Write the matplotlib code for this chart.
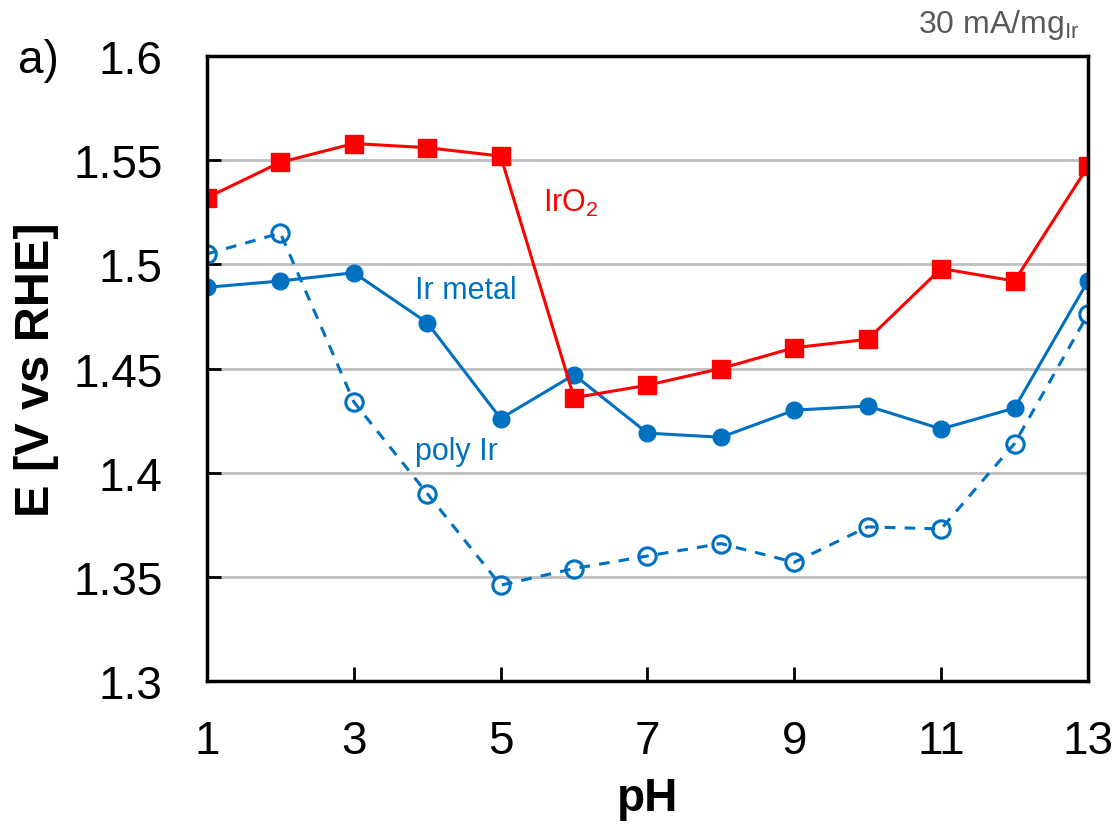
import matplotlib
matplotlib.use("Agg")
from matplotlib import pyplot as plt

plt.rcParams['font.family'] = ['Liberation Sans', 'DejaVu Sans']

# data
ph = [1, 2, 3, 4, 5, 6, 7, 8, 9, 10, 11, 12, 13]
iro2 = [1.532, 1.549, 1.558, 1.556, 1.552, 1.436, 1.442, 1.450, 1.460, 1.464, 1.498, 1.492, 1.547]
ir_metal = [1.489, 1.492, 1.496, 1.472, 1.426, 1.447, 1.419, 1.417, 1.430, 1.432, 1.421, 1.431, 1.492]
poly_ir = [1.505, 1.515, 1.434, 1.390, 1.346, 1.354, 1.360, 1.366, 1.357, 1.374, 1.373, 1.414, 1.476]

x_ticks = [1, 3, 5, 7, 9, 11, 13]
y_ticks = [1.3, 1.35, 1.4, 1.45, 1.5, 1.55, 1.6]
y_ticklabels = ['1.3', '1.35', '1.4', '1.45', '1.5', '1.55', '1.6']

red = '#FF0000'
blue = '#0070C0'

fig = plt.figure(figsize=(11.2, 8.29), dpi=100)
ax = fig.add_axes([0.1848, 0.1773, 0.7866, 0.7539])

# open circles are see-through in the original, the dashes show inside them
ax.plot(ph, poly_ir, color=blue, lw=2.2, ls=(0, (3.5, 3)), marker='o', ms=12.5,
        mfc='none', mec=blue, mew=2.2, zorder=3)
ax.plot(ph, ir_metal, color=blue, lw=2.2, marker='o', ms=12, zorder=4)
ax.plot(ph, iro2, color=red, lw=2.2, marker='s', ms=12.5, zorder=5)

ax.set_xlim(1, 13)
ax.set_ylim(1.3, 1.6)
ax.set_xticks(x_ticks)
ax.set_yticks(y_ticks)
ax.set_yticklabels(y_ticklabels)
ax.tick_params(direction='in', length=10, width=2, labelsize=33, color='black')
ax.tick_params(axis='y', pad=32)
ax.tick_params(axis='x', pad=27)
ax.yaxis.grid(True, color='#BFBFBF', lw=2)
ax.set_axisbelow(True)
for s in ax.spines.values():
    s.set_linewidth(2.5)
    s.set_zorder(6)

ax.set_xlabel('pH', fontsize=33, fontweight='bold', labelpad=10)
ax.set_ylabel('E [V vs RHE]', fontsize=35, fontweight='bold', labelpad=10)

ax.text(5.58, 1.5255, r'IrO$_{\mathregular{2}}$', color=red, fontsize=22, ha='left', va='baseline')
ax.text(3.83, 1.4837, 'Ir metal', color=blue, fontsize=22, ha='left', va='baseline')
ax.text(3.83, 1.4067, 'poly Ir', color=blue, fontsize=22, ha='left', va='baseline')

fig.text(0.016, 0.912, 'a)', fontsize=33, ha='left', va='baseline')
fig.text(0.964, 0.960, r'30 mA/mg$_{\mathregular{Ir}}$', fontsize=23, color='#595959',
         ha='right', va='baseline')

fig.savefig('out.png', dpi=100)
